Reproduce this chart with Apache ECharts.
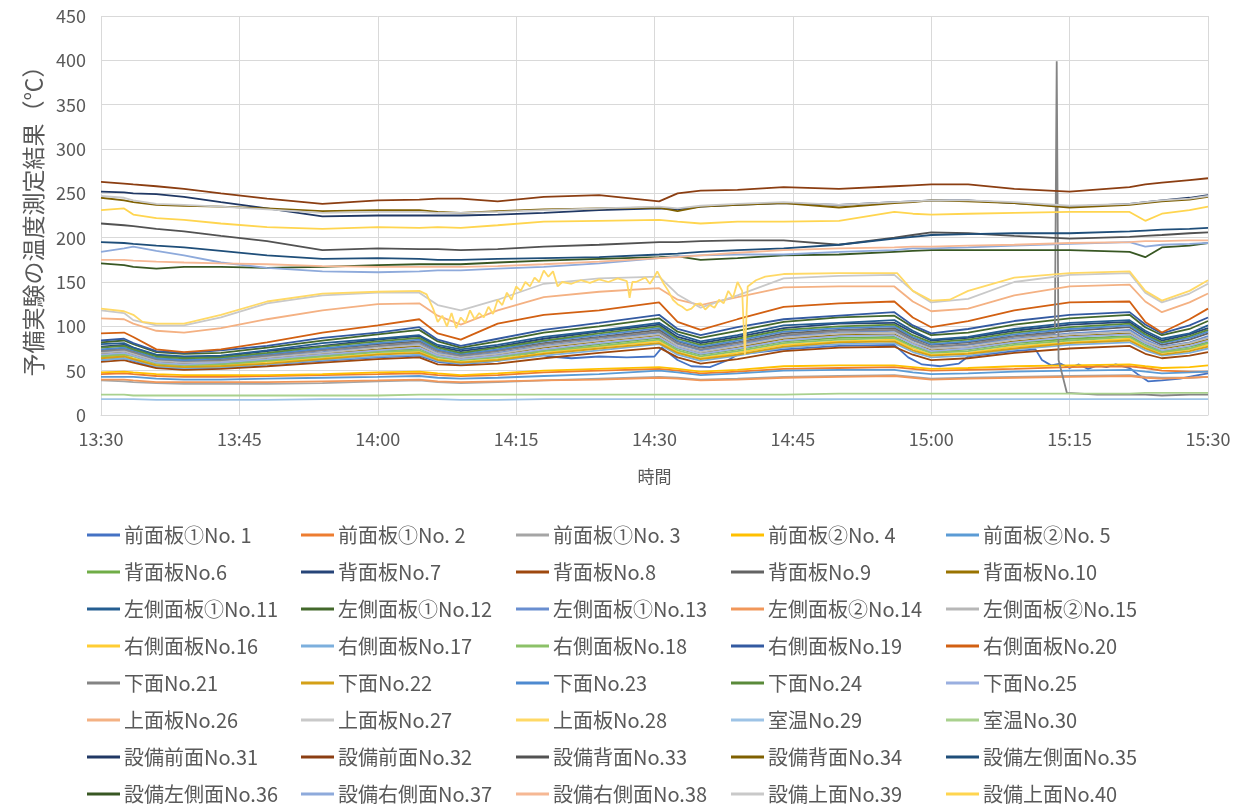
<!DOCTYPE html>
<html>
<head>
<meta charset="utf-8">
<script src="https://cdn.jsdelivr.net/npm/echarts@6/dist/echarts.min.js"></script>
<style>
html,body{margin:0;padding:0;background:#fff;}
#chart{width:1247px;height:810px;}
</style>
</head>
<body>
<div id="chart"></div>
<script>
// ---- data ----
const seriesNames = ['前面板①No. 1','前面板①No. 2','前面板①No. 3','前面板②No. 4','前面板②No. 5',
'背面板No.6','背面板No.7','背面板No.8','背面板No.9','背面板No.10',
'左側面板①No.11','左側面板①No.12','左側面板①No.13','左側面板②No.14','左側面板②No.15',
'右側面板No.16','右側面板No.17','右側面板No.18','右側面板No.19','右側面板No.20',
'下面No.21','下面No.22','下面No.23','下面No.24','下面No.25',
'上面板No.26','上面板No.27','上面板No.28','室温No.29','室温No.30',
'設備前面No.31','設備前面No.32','設備背面No.33','設備背面No.34','設備左側面No.35',
'設備左側面No.36','設備右側面No.37','設備右側面No.38','設備上面No.39','設備上面No.40'];

// minutes after 13:30
const minutes = [0,2.5,3.5,6,9,13,18,24,30,34.5,36.5,39,43,48,54,60.5,62.5,65,69,74,80,86,88,90,94,99,105,111.5,113.2,115,118,120];
const t1 = [0,2.5,3.5,6,9,13,18,24,30,34.5,36.5,39,43,47,48.5,51,54,57,60,60.8,62.5,64,66,68,69,74,80,86,87.5,89,91,93,94,99,101.3,102,103,104,105,106,107,108,109,110,111.5,112.5,113.5,115,117,118.5,120];
const t21 = [0,2.5,3.5,6,9,13,18,24,30,34.5,36.5,39,43,48,54,60.5,62.5,65,69,74,80,86,88,90,94,99,103.4,103.6,103.8,104.7,108,111.5,113.2,115,118,120];
const t28 = [0,2.5,3.5,4.5,6,9,13,18,24,30,34.5,35.3,36,36.5,37,37.5,38,38.5,39,39.5,40,40.5,41,41.5,42,42.5,43,43.5,44,44.5,45,45.5,46,46.5,47,47.5,48,48.5,49,49.5,50,51,52,53,54,55,56,57,57.3,57.6,58,59,59.5,60,60.3,61,61.5,62,62.5,63,63.5,64,64.5,65,65.5,66,66.5,67,67.5,68,68.5,69,69.5,69.8,70.1,71,72,74,80,86.3,88,90,92,94,99,105,111.5,113.2,115,118,120];

const v1 = [62,64,61,54,52,53,57,61,65,67,60,57,61,70,66,64,66,65,66,76,62,55,54,62,68,74,78,79,65,57,55,58,66,72,74,62,56,58,53,57,52,56,54,57,53,45,38,39,41,44,47];
const v2 = [46,47,46,44,43,43,44,45,46,47,45,44,45,48,50,52,50,47,49,52,53,54,52,50,51,52,54,55,53,50,49,49];
const v3 = [39,38,37,36,35,35,35,36,38,39,37,36,37,39,41,43,42,40,41,43,44,45,43,41,42,43,44,45,43,42,42,43];
const v4 = [48,49,48,46,45,45,45,46,48,49,47,45,47,50,52,54,52,49,51,55,56,56,54,52,53,55,56,57,55,53,54,56];
const v5 = [43,43,43,41,40,40,41,42,43,44,42,41,42,44,46,50,48,45,47,50,51,51,48,46,47,49,50,51,49,47,48,49];
const v6 = [67,69,67,59,57,58,62,67,72,75,66,63,66,73,80,87,75,68,74,83,87,88,78,71,74,81,86,89,80,72,77,82];
const v7 = [77,79,76,67,65,66,72,78,85,89,77,72,77,86,94,102,88,81,88,98,103,104,93,84,87,95,102,105,93,84,91,98];
const v8 = [60,62,59,53,51,52,55,59,63,65,57,56,58,64,70,76,65,58,63,72,76,77,68,62,64,70,75,78,69,64,67,71];
const v9 = [73,75,72,64,62,63,68,74,80,83,73,68,73,81,88,96,83,76,82,92,96,98,87,79,82,89,95,99,88,79,85,92];
const v10 = [69,71,68,60,58,60,64,69,74,78,68,64,68,76,83,90,77,70,76,86,90,91,81,73,76,83,89,92,82,75,80,85];
const v11 = [80,81,76,68,66,67,73,81,86,90,79,74,79,88,95,104,91,83,90,101,104,107,95,85,88,97,104,107,95,86,92,101];
const v12 = [82,84,80,71,69,70,76,84,91,96,83,76,83,93,100,109,94,87,95,105,110,112,99,90,93,102,109,113,99,90,97,106];
const v13 = [71,73,70,62,60,61,66,71,77,80,70,66,70,78,85,93,80,73,79,89,93,95,84,76,79,86,92,96,85,77,82,89];
const v14 = [40,40,39,37,37,37,37,38,39,40,38,37,38,39,40,42,41,39,40,42,43,44,42,40,41,42,43,44,42,41,42,43];
const v15 = [70,72,69,61,59,60,65,70,76,79,69,65,69,77,84,91,78,71,78,87,92,93,82,75,77,85,91,94,83,76,81,87];
const v16 = [65,67,64,57,55,56,60,64,69,72,63,60,63,70,77,83,71,64,70,79,83,85,75,68,70,77,82,86,76,70,74,79];
const v17 = [62,64,62,55,53,54,57,62,66,68,61,58,61,67,73,80,68,61,67,76,80,81,71,65,67,74,79,82,73,67,70,75];
const v18 = [66,68,66,58,56,57,61,66,71,73,65,62,65,72,78,85,73,66,72,81,85,87,77,70,72,79,84,88,78,71,75,81];
const v19 = [84,86,81,72,70,73,78,87,93,99,85,78,86,96,104,113,97,90,99,108,112,116,101,92,97,106,113,116,102,92,101,110];
const v20 = [92,93,88,74,71,74,82,93,101,108,92,85,103,113,118,127,105,96,108,122,126,128,110,99,106,118,127,128,105,93,108,120];
const v21 = [72,74,71,63,61,62,67,73,78,82,72,67,72,80,87,94,81,74,81,90,95,96,85,77,80,88,92,399,62,25,23,23,23,22,23,23];
const v22 = [64,66,63,56,54,55,58,63,68,70,62,59,62,69,75,81,70,63,68,77,82,83,73,67,69,75,81,84,75,68,72,77];
const v23 = [74,76,73,64,62,64,69,75,81,85,74,69,74,83,90,98,84,77,84,94,98,100,88,80,83,91,97,101,89,81,87,94];
const v24 = [76,78,74,66,64,65,70,77,83,87,76,70,76,84,92,100,86,79,86,96,100,102,90,82,85,93,99,103,91,82,89,96];
const v25 = [68,70,67,59,57,59,63,68,73,76,67,63,67,74,81,88,76,69,75,84,89,90,80,72,75,82,88,91,81,73,78,84];
const v26 = [109,108,103,95,93,98,108,118,125,126,112,102,118,133,139,143,130,124,133,144,145,145,128,117,120,135,145,147,128,116,127,137];
const v27 = [118,115,107,101,101,110,126,135,138,138,124,118,130,148,154,156,136,121,135,154,157,158,140,127,131,150,158,160,138,127,137,148];
const v28 = [120,117,113,105,103,103,113,128,137,139,140,136,120,105,112,100,115,98,110,104,118,108,115,110,122,114,130,124,138,130,145,140,150,145,155,150,163,156,162,145,150,148,152,149,153,150,154,151,132,150,150,155,148,156,162,148,140,130,125,122,118,120,125,126,119,124,121,130,126,140,132,150,140,68,145,152,156,159,160,160,140,129,130,140,155,160,162,140,129,140,152];
const v29 = [18,18,18,17,17,17,17,18,18,18,18,17,17,18,18,18,18,18,18,18,18,18,18,18,18,18,18,18,18,18,18,18];
const v30 = [23,23,22,22,22,22,22,22,22,23,23,23,23,23,23,23,23,23,23,23,24,24,24,24,24,24,24,24,25,25,25,25];
const v31 = [252,251,250,249,246,240,233,224,225,225,225,225,226,228,231,233,232,235,237,239,237,240,241,242,242,239,235,238,240,242,245,248];
const v32 = [263,261,260,258,255,250,244,238,242,243,244,244,241,246,248,241,250,253,254,257,255,258,259,260,260,255,252,257,260,262,265,267];
const v33 = [216,214,213,210,207,202,196,186,188,187,187,186,187,190,192,195,195,196,197,197,192,200,203,206,205,202,199,201,202,203,205,206];
const v34 = [245,242,240,237,236,235,233,230,231,231,229,228,230,232,233,234,230,235,237,239,234,239,240,242,241,239,234,237,239,241,243,246];
const v35 = [195,194,193,191,189,185,180,176,177,176,175,175,176,177,178,181,182,184,186,188,192,199,201,203,204,205,205,207,208,209,210,211];
const v36 = [171,169,167,165,167,167,166,167,169,170,170,170,172,174,176,178,179,175,177,180,181,184,185,186,186,186,186,184,178,189,191,194];
const v37 = [184,188,190,185,180,172,166,162,161,162,163,163,165,167,171,177,179,180,181,181,184,186,188,188,189,191,193,195,190,192,193,194];
const v38 = [175,175,174,173,172,171,170,168,167,167,167,167,168,170,173,177,178,180,183,186,188,189,190,190,191,192,194,195,196,196,197,197];
const v39 = [247,245,242,238,237,235,232,228,229,229,228,228,229,231,233,235,233,236,238,240,237,240,241,242,242,240,236,238,240,242,244,247];
const v40 = [231,233,226,222,220,216,212,210,212,211,212,211,214,218,219,220,218,216,218,218,219,229,227,226,227,228,229,229,219,227,231,235];

const yTicks = [0,50,100,150,200,250,300,350,400,450];
const xTickLabels = ['13:30','13:45','14:00','14:15','14:30','14:45','15:00','15:15','15:30'];

// ---- styling ----
const colors = ['#4472C4','#ED7D31','#A5A5A5','#FFC000','#5B9BD5','#70AD47','#264478','#9E480E','#636363','#997300',
'#255E91','#43682B','#698ED0','#F1975A','#B7B7B7','#FFCD33','#7CAFDD','#8CC168','#335AA1','#D26012',
'#848484','#D4A017','#4E8AD0','#5A8A3A','#9AAFE0','#F4B183','#C9C9C9','#FFD966','#9DC3E6','#A9D18E',
'#203864','#8B3E12','#525252','#7F6000','#1F4E79','#385723','#8EAADB','#F6B894','#C9C9C9','#FFD54F'];

const timesFor = i => (i === 0 ? t1 : i === 20 ? t21 : i === 27 ? t28 : minutes);
const vals = [v1,v2,v3,v4,v5,v6,v7,v8,v9,v10,v11,v12,v13,v14,v15,v16,v17,v18,v19,v20,
              v21,v22,v23,v24,v25,v26,v27,v28,v29,v30,v31,v32,v33,v34,v35,v36,v37,v38,v39,v40];

const FONT = '"Noto Sans CJK JP", "Noto Sans", sans-serif';
const TXT = '#595959';

const series = seriesNames.map((name, i) => {
  const ts = timesFor(i);
  return {
    type: 'line', name,
    data: ts.map((t, j) => [t, vals[i][j]]),
    showSymbol: false, symbol: 'none',
    lineStyle: { width: 1.8, color: colors[i] },
    itemStyle: { color: colors[i] },
    emphasis: { disabled: true },
    animation: false
  };
});

const colLeft = [87, 301, 516, 731, 946];
const legends = colLeft.map((left, c) => ({
  orient: 'vertical', left: left, top: 524, padding: 0,
  itemGap: 15, itemWidth: 33, itemHeight: 3, icon: 'rect',
  selectedMode: false,
  textStyle: { fontSize: 20, color: TXT, lineHeight: 22, fontFamily: FONT, padding: [0,0,0,-1] },
  data: seriesNames.filter((n, i) => i % 5 === c)
}));

const chart = echarts.init(document.getElementById('chart'), null, { renderer: 'canvas' });
chart.setOption({
  backgroundColor: '#fff',
  animation: false,
  color: colors,
  textStyle: { fontFamily: FONT },
  grid: { left: 101, top: 16, width: 1107, height: 399, containLabel: false },
  legend: legends,
  xAxis: {
    type: 'value', min: 0, max: 120, interval: 15,
    name: '時間', nameLocation: 'middle', nameGap: 53,
    nameTextStyle: { fontSize: 17, color: TXT, fontFamily: FONT },
    axisLine: { show: true, lineStyle: { color: '#D9D9D9', width: 1 } },
    axisTick: { show: false },
    axisLabel: { fontSize: 18, color: TXT, margin: 15, fontFamily: FONT,
      formatter: v => xTickLabels[Math.round(v / 15)] },
    splitLine: { show: true, lineStyle: { color: '#D9D9D9', width: 1 } }
  },
  yAxis: {
    type: 'value', min: yTicks[0], max: yTicks[yTicks.length - 1], interval: 50,
    name: '予備実験の温度測定結果（℃）', nameLocation: 'middle', nameGap: 50, nameRotate: 90,
    nameTextStyle: { fontSize: 23, color: TXT, fontFamily: FONT },
    axisLine: { show: false },
    axisTick: { show: false },
    axisLabel: { fontSize: 18, color: TXT, margin: 15, fontFamily: FONT },
    splitLine: { show: true, lineStyle: { color: '#D9D9D9', width: 1 } }
  },
  series: series
});
</script>
</body>
</html>
